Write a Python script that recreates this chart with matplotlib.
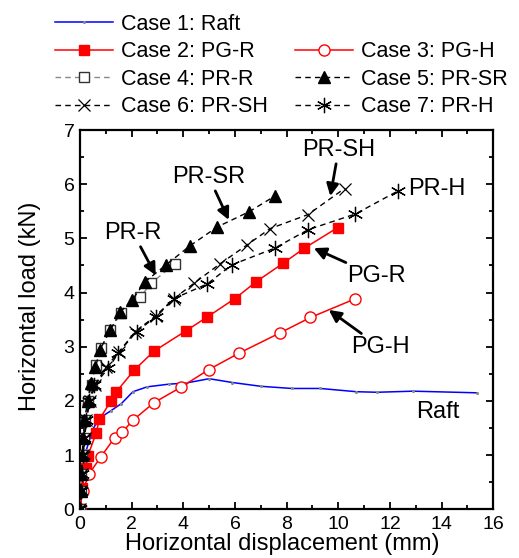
import matplotlib
matplotlib.use("Agg")
import matplotlib.pyplot as plt
from matplotlib.lines import Line2D
from matplotlib.ticker import MultipleLocator

plt.rcParams['font.family'] = ['Liberation Sans', 'DejaVu Sans']

# ---- data ----
raft_x = [0, 0.05, 0.15, 0.25, 0.5, 0.75, 1.2, 1.6, 2.05, 2.6, 3.45, 4.1, 5.0, 5.9, 7.0, 8.2, 9.3, 10.7, 11.5, 12.9, 15.35]
raft_y = [0, 0.5, 0.9, 1.1, 1.48, 1.68, 1.82, 1.95, 2.17, 2.26, 2.31, 2.33, 2.41, 2.34, 2.27, 2.23, 2.23, 2.17, 2.16, 2.18, 2.15]

pgr_x = [0, 0.08, 0.23, 0.3, 0.62, 0.75, 1.2, 1.41, 2.1, 2.87, 4.09, 4.93, 6.0, 6.82, 7.86, 8.69, 9.98]
pgr_y = [0, 0.4, 0.77, 0.98, 1.4, 1.66, 2.0, 2.17, 2.57, 2.92, 3.29, 3.55, 3.89, 4.2, 4.54, 4.82, 5.2]

pgh_x = [0, 0.1, 0.36, 0.81, 1.34, 1.63, 2.04, 2.87, 3.9, 4.99, 6.15, 7.76, 8.92, 10.63]
pgh_y = [0, 0.33, 0.66, 0.97, 1.32, 1.42, 1.64, 1.97, 2.25, 2.58, 2.88, 3.26, 3.54, 3.88]

prr_x = [0, 0.03, 0.05, 0.09, 0.14, 0.2, 0.32, 0.45, 0.62, 0.81, 1.16, 1.6, 2.33, 2.74, 3.68]
prr_y = [0, 0.33, 0.66, 1.0, 1.31, 1.65, 2.0, 2.3, 2.66, 2.97, 3.3, 3.63, 3.91, 4.17, 4.53]

prsr_x = [0, 0.02, 0.04, 0.08, 0.13, 0.17, 0.3, 0.42, 0.6, 0.77, 1.16, 1.56, 2.03, 2.52, 3.33, 4.25, 5.31, 6.54, 7.54]
prsr_y = [0, 0.33, 0.66, 1.0, 1.31, 1.64, 2.0, 2.34, 2.62, 2.94, 3.3, 3.64, 3.87, 4.2, 4.51, 4.86, 5.21, 5.49, 5.78]

prsh_x = [0, 0.03, 0.06, 0.12, 0.18, 0.25, 0.38, 0.6, 1.0, 1.5, 2.14, 2.93, 3.64, 4.41, 5.42, 6.47, 7.36, 8.83, 10.24]
prsh_y = [0, 0.33, 0.66, 1.0, 1.31, 1.65, 2.0, 2.3, 2.62, 2.9, 3.28, 3.57, 3.89, 4.17, 4.53, 4.88, 5.18, 5.44, 5.92]

prh_x = [0, 0.03, 0.06, 0.1, 0.17, 0.25, 0.35, 0.55, 1.1, 1.49, 2.19, 2.93, 3.64, 4.93, 5.87, 7.54, 8.83, 10.66, 12.33]
prh_y = [0, 0.33, 0.66, 1.0, 1.31, 1.65, 2.0, 2.3, 2.6, 2.89, 3.28, 3.55, 3.89, 4.16, 4.51, 4.82, 5.16, 5.45, 5.88]

labels = ['Case 1: Raft', 'Case 2: PG-R', 'Case 3: PG-H', 'Case 4: PR-R',
          'Case 5: PR-SR', 'Case 6: PR-SH', 'Case 7: PR-H']

# ---- figure ----
fig = plt.figure(figsize=(5.19, 5.58), dpi=100)
ax = fig.add_axes([80/519, 1-509.3/558, 413.3/519, 379.3/558])

dash = (0, (4, 3))
h1, = ax.plot(raft_x, raft_y, color='#0000ff', lw=1.1, marker='.', ms=2.5,
              mfc='#888888', mec='#888888', label=labels[0], zorder=3)
h2, = ax.plot(pgr_x, pgr_y, color='red', lw=1.1, marker='s', ms=7.5,
              mfc='red', mec='red', label=labels[1], zorder=4)
h3, = ax.plot(pgh_x, pgh_y, color='red', lw=1.1, marker='o', ms=8,
              mfc='white', mec='red', mew=1.0, label=labels[2], zorder=4)
h4, = ax.plot(prr_x, prr_y, color='#888888', lw=1.0, ls=dash, marker='s', ms=7,
              mfc='white', mec='#333333', mew=1.0, label=labels[3], zorder=5)
h5, = ax.plot(prsr_x, prsr_y, color='black', lw=1.0, ls=dash, marker='^', ms=9,
              mfc='black', mec='black', label=labels[4], zorder=6)
h6, = ax.plot(prsh_x, prsh_y, color='black', lw=1.0, ls=dash, marker='x', ms=9,
              mec='black', mew=0.9, label=labels[5], zorder=5)
h7, = ax.plot(prh_x, prh_y, color='black', lw=1.0, ls=dash, marker=(6, 2, 0), ms=11,
              mec='black', mew=0.9, label=labels[6], zorder=5)

ax.set_xlim(0, 16)
ax.set_ylim(0, 7)
ax.xaxis.set_major_locator(MultipleLocator(2))
ax.xaxis.set_minor_locator(MultipleLocator(1))
ax.yaxis.set_major_locator(MultipleLocator(1))
ax.yaxis.set_minor_locator(MultipleLocator(0.5))
ax.tick_params(which='both', direction='in', top=True, right=True, width=1.3)
ax.tick_params(which='major', length=5, labelsize=14)
ax.tick_params(which='minor', length=3)
ax.tick_params(axis='x', which='major', pad=5)
ax.tick_params(axis='y', which='major', pad=4)
for s in ax.spines.values():
    s.set_linewidth(1.6)

ax.set_xlabel('Horizontal displacement (mm)', fontsize=17)
ax.set_ylabel('Horizontal load (kN)', fontsize=17)
ax.xaxis.set_label_coords(0.49, -0.062)
ax.yaxis.set_label_coords(-0.095, 0.535)

# ---- annotations ----
arrow = dict(arrowstyle='-|>', color='black', lw=2.0, mutation_scale=18,
             shrinkA=0, shrinkB=0)
ax.annotate('PR-R', xy=(2.93, 4.32), xytext=(2.06, 5.1), fontsize=17,
            ha='center', va='center', arrowprops=arrow)
ax.annotate('PR-SR', xy=(5.76, 5.34), xytext=(4.99, 6.13), fontsize=17,
            ha='center', va='center', arrowprops=arrow)
ax.annotate('PR-SH', xy=(9.69, 5.78), xytext=(10.01, 6.63), fontsize=17,
            ha='center', va='center', arrowprops=arrow)
ax.text(12.71, 5.91, 'PR-H', fontsize=17, ha='left', va='center')
ax.annotate('PG-R', xy=(9.05, 4.82), xytext=(11.48, 4.3), fontsize=17,
            ha='center', va='center', arrowprops=arrow)
ax.annotate('PG-H', xy=(9.63, 3.68), xytext=(11.63, 2.99), fontsize=17,
            ha='center', va='center', arrowprops=arrow)
ax.text(13.87, 1.79, 'Raft', fontsize=17, ha='center', va='center')

# ---- legend ----
blank = Line2D([], [], linestyle='none', marker=None)
handles = [h1, h2, h4, h6, blank, h3, h5, h7]
leg_labels = [labels[0], labels[1], labels[3], labels[5], '', labels[2], labels[4], labels[6]]
fig.legend(handles, leg_labels, ncol=2, frameon=False, fontsize=15.5,
           loc='upper left', bbox_to_anchor=(55/519, 1-14/558),
           borderaxespad=0, borderpad=0, handlelength=2.7, handletextpad=0.37,
           columnspacing=1.25, labelspacing=0.3)

fig.savefig('out.png', dpi=100)
